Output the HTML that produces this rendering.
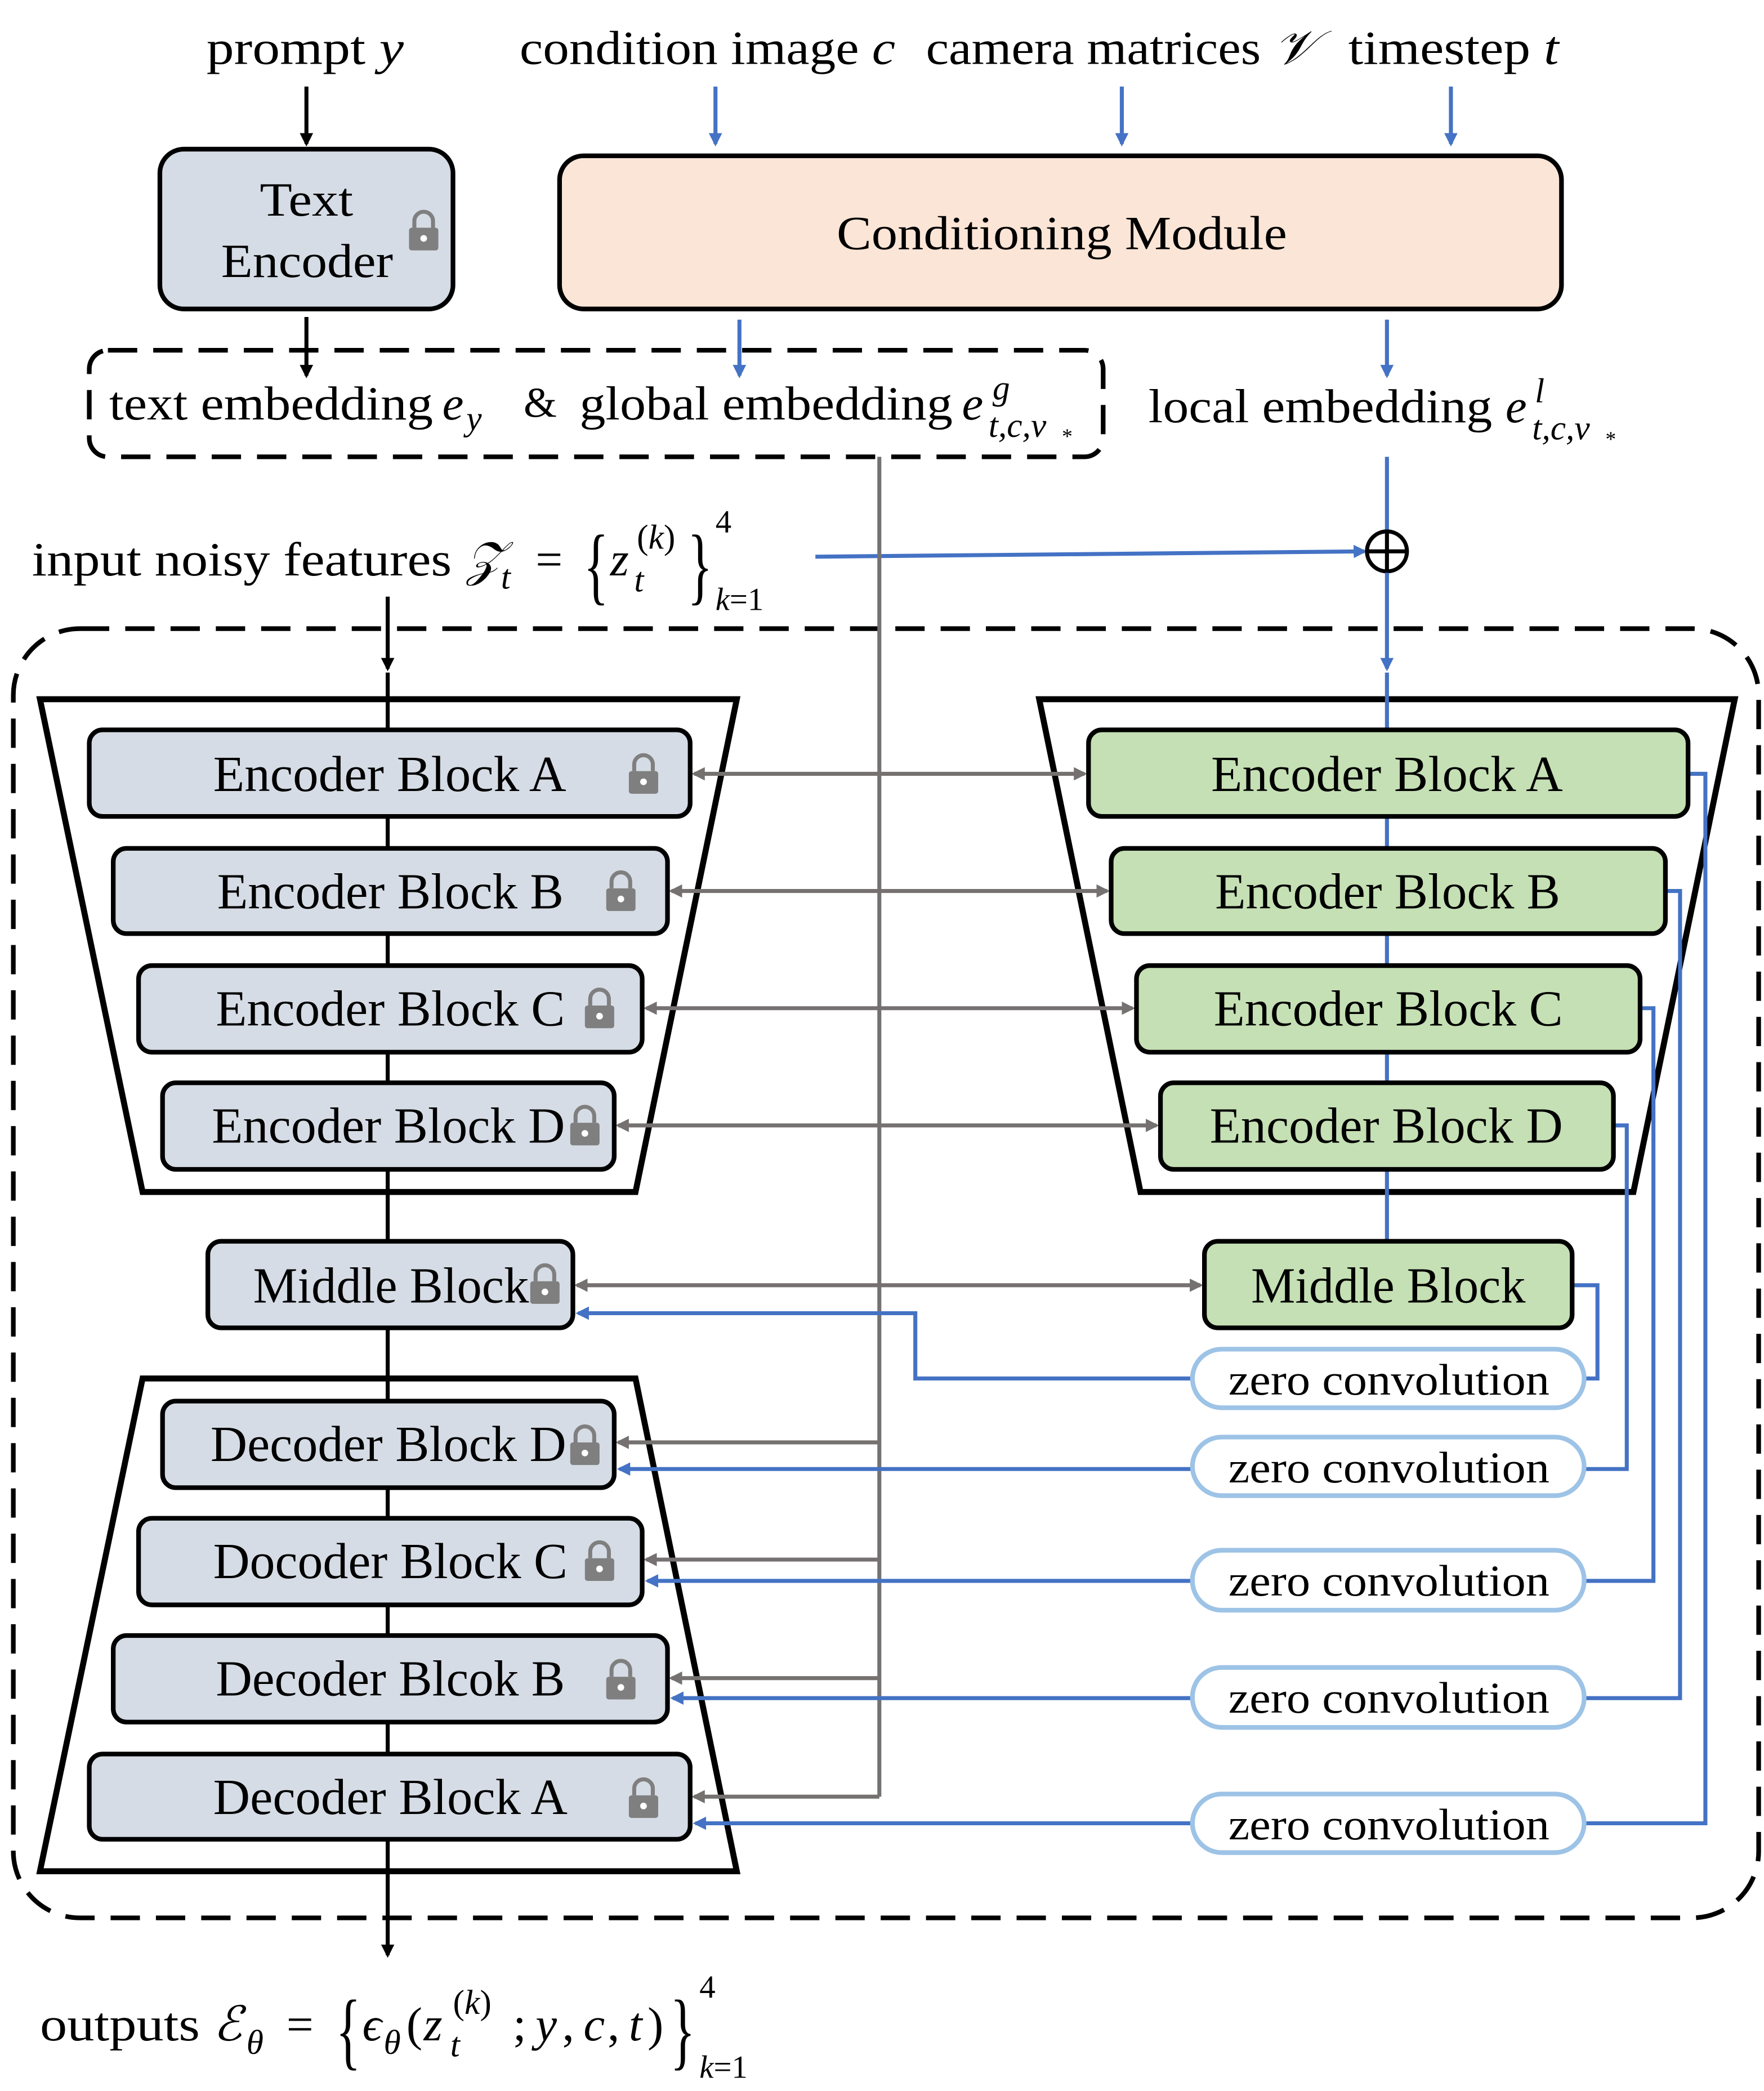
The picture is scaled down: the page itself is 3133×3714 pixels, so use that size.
<!DOCTYPE html>
<html><head><meta charset="utf-8"><style>
html,body{margin:0;padding:0;background:#fff;}
svg{display:block;}
text{font-family:"Liberation Serif",serif;fill:#000;}
</style></head><body>
<svg width="3133" height="3714" viewBox="0 0 1324 1570" preserveAspectRatio="none" xmlns="http://www.w3.org/2000/svg">
<defs>
<marker id="ak" markerWidth="10" markerHeight="10" refX="8" refY="5" orient="auto" markerUnits="userSpaceOnUse"><path d="M0,0 L10,5 L0,10 z" fill="#000"/></marker>
<marker id="ab" markerWidth="10" markerHeight="10" refX="8" refY="5" orient="auto" markerUnits="userSpaceOnUse"><path d="M0,0 L10,5 L0,10 z" fill="#4472c4"/></marker>
<marker id="ag" markerWidth="10" markerHeight="10" refX="8" refY="5" orient="auto-start-reverse" markerUnits="userSpaceOnUse"><path d="M0,0 L10,5 L0,10 z" fill="#767171"/></marker>
<g id="lock"><path d="M-7,-4 v-5 a7,7 0 0 1 14,0 v5" fill="none" stroke="#7f7f7f" stroke-width="3"/><rect x="-11" y="-4" width="22" height="17" rx="2" fill="#7f7f7f"/><circle cx="0" cy="4" r="2.5" fill="#fff"/></g>
</defs>

<!-- top labels -->
<text x="155" y="48" font-size="36" textLength="148" lengthAdjust="spacingAndGlyphs">prompt <tspan font-style="italic">y</tspan></text>
<text x="390" y="48" font-size="36" textLength="282" lengthAdjust="spacingAndGlyphs">condition image <tspan font-style="italic">c</tspan></text>
<text x="695" y="48" font-size="36" textLength="293" lengthAdjust="spacingAndGlyphs">camera matrices <tspan font-style="italic">𝒱</tspan></text>
<text x="1012" y="48" font-size="36" textLength="158" lengthAdjust="spacingAndGlyphs">timestep <tspan font-style="italic">t</tspan></text>

<line x1="230" y1="65" x2="230" y2="108" stroke="#000" stroke-width="3" marker-end="url(#ak)"/>
<g stroke="#4472c4" stroke-width="3">
<line x1="537" y1="65" x2="537" y2="108" marker-end="url(#ab)"/>
<line x1="842" y1="65" x2="842" y2="108" marker-end="url(#ab)"/>
<line x1="1089" y1="65" x2="1089" y2="108" marker-end="url(#ab)"/>
</g>

<rect x="120" y="112" width="220" height="120" rx="18" fill="#d6dce5" stroke="#000" stroke-width="3.5"/>
<text x="195" y="162" font-size="36" textLength="70" lengthAdjust="spacingAndGlyphs">Text</text>
<text x="166" y="208" font-size="36" textLength="129" lengthAdjust="spacingAndGlyphs">Encoder</text>
<use href="#lock" x="318" y="175"/>

<rect x="420" y="117" width="752" height="115" rx="18" fill="#fbe5d6" stroke="#000" stroke-width="3.5"/>
<text x="628" y="187" font-size="36" textLength="338" lengthAdjust="spacingAndGlyphs">Conditioning Module</text>

<rect x="67" y="263" width="761" height="80" rx="14" fill="none" stroke="#000" stroke-width="3.5" stroke-dasharray="22,12"/>
<line x1="230" y1="238" x2="230" y2="282" stroke="#000" stroke-width="3" marker-end="url(#ak)"/>
<line x1="555" y1="240" x2="555" y2="282" stroke="#4472c4" stroke-width="3" marker-end="url(#ab)"/>
<line x1="1041" y1="240" x2="1041" y2="282" stroke="#4472c4" stroke-width="3" marker-end="url(#ab)"/>

<g font-size="36">
<text x="82" y="315" textLength="243" lengthAdjust="spacingAndGlyphs">text embedding</text>
<text x="332" y="315" font-style="italic">e</text>
<text x="350" y="323" font-style="italic" font-size="26">y</text>
<text x="393" y="313" font-size="32">&amp;</text>
<text x="435" y="315" textLength="280" lengthAdjust="spacingAndGlyphs">global embedding</text>
<text x="722" y="315" font-style="italic">e</text>
<text x="745" y="300" font-style="italic" font-size="26">g</text>
<text x="742" y="328" font-style="italic" font-size="26">t,c,v</text>
<text x="797" y="333" font-size="16">*</text>

<text x="862" y="317" textLength="258" lengthAdjust="spacingAndGlyphs">local embedding</text>
<text x="1130" y="317" font-style="italic">e</text>
<text x="1152" y="302" font-style="italic" font-size="26">l</text>
<text x="1150" y="330" font-style="italic" font-size="26">t,c,v</text>
<text x="1205" y="335" font-size="16">*</text>
</g>

<!-- noise -->
<g font-size="36">
<text x="24" y="432" textLength="315" lengthAdjust="spacingAndGlyphs">input noisy features</text>
<text x="350" y="432" font-style="italic">𝒵</text>
<text x="376" y="442" font-style="italic" font-size="26">t</text>
<text x="402" y="432">=</text>
<text x="438" y="446" font-size="56" transform="translate(438,446) scale(0.7,1.15) translate(-438,-446)">{</text>
<text x="458" y="432" font-style="italic">z</text>
<text x="478" y="412" font-size="26">(<tspan font-style="italic">k</tspan>)</text>
<text x="476" y="444" font-style="italic" font-size="26">t</text>
<text x="516" y="446" font-size="56" transform="translate(516,446) scale(0.7,1.15) translate(-516,-446)">}</text>
<text x="537" y="400" font-size="24">4</text>
<text x="537" y="458" font-size="24"><tspan font-style="italic">k</tspan>=1</text>
</g>

<line x1="1041" y1="343" x2="1041" y2="398" stroke="#4472c4" stroke-width="3"/>
<line x1="612" y1="418" x2="1024" y2="414" stroke="#4472c4" stroke-width="3" marker-end="url(#ab)"/>
<circle cx="1041" cy="414" r="15" fill="none" stroke="#000" stroke-width="3"/>
<line x1="1026" y1="414" x2="1056" y2="414" stroke="#000" stroke-width="3"/>
<line x1="1041" y1="399" x2="1041" y2="429" stroke="#000" stroke-width="3"/>
<line x1="1041" y1="430" x2="1041" y2="502" stroke="#4472c4" stroke-width="3" marker-end="url(#ab)"/>
<line x1="291" y1="448" x2="291" y2="502" stroke="#000" stroke-width="3" marker-end="url(#ak)"/>

<rect x="10" y="472" width="1310" height="968" rx="50" fill="none" stroke="#000" stroke-width="3.5" stroke-dasharray="22,12"/>

<!-- trapezoids -->
<polygon points="30,525 553,525 477,895 107,895" fill="none" stroke="#000" stroke-width="4.5"/>
<polygon points="107,1035 477,1035 553,1405 30,1405" fill="none" stroke="#000" stroke-width="4.5"/>
<polygon points="780,525 1302,525 1226,895 856,895" fill="none" stroke="#000" stroke-width="4.5"/>

<line x1="291" y1="505" x2="291" y2="1468" stroke="#000" stroke-width="3" marker-end="url(#ak)"/>
<line x1="1041" y1="505" x2="1041" y2="932" stroke="#4472c4" stroke-width="3"/>

<!-- gray lines -->
<g stroke="#767171" stroke-width="3" fill="none">
<line x1="521" y1="581" x2="814" y2="581" marker-start="url(#ag)" marker-end="url(#ag)"/>
<line x1="504" y1="669" x2="831" y2="669" marker-start="url(#ag)" marker-end="url(#ag)"/>
<line x1="485" y1="757" x2="850" y2="757" marker-start="url(#ag)" marker-end="url(#ag)"/>
<line x1="464" y1="845" x2="868" y2="845" marker-start="url(#ag)" marker-end="url(#ag)"/>
<line x1="433" y1="965" x2="901" y2="965" marker-start="url(#ag)" marker-end="url(#ag)"/>
<polyline points="660,343 660,1349"/>
<line x1="660" y1="1083" x2="464" y2="1083" marker-end="url(#ag)"/>
<line x1="660" y1="1171" x2="485" y2="1171" marker-end="url(#ag)"/>
<line x1="660" y1="1260" x2="504" y2="1260" marker-end="url(#ag)"/>
<line x1="660" y1="1349" x2="521" y2="1349" marker-end="url(#ag)"/>
</g>

<!-- blue routing -->
<g stroke="#4472c4" stroke-width="3" fill="none">
<polyline points="1267,581 1280,581 1280,1369 1189,1369"/>
<polyline points="1250,669 1261,669 1261,1275 1189,1275"/>
<polyline points="1231,757 1241,757 1241,1187 1189,1187"/>
<polyline points="1211,845 1221,845 1221,1103 1189,1103"/>
<polyline points="1180,965 1199,965 1199,1035 1189,1035"/>
<line x1="895" y1="1369" x2="522" y2="1369" marker-end="url(#ab)"/>
<line x1="895" y1="1275" x2="505" y2="1275" marker-end="url(#ab)"/>
<line x1="895" y1="1187" x2="486" y2="1187" marker-end="url(#ab)"/>
<line x1="895" y1="1103" x2="465" y2="1103" marker-end="url(#ab)"/>
<polyline points="895,1035 687,1035 687,986 434,986" marker-end="url(#ab)"/>
</g>

<!-- left blocks -->
<g fill="#d6dce5" stroke="#000" stroke-width="3.5">
<rect x="67" y="548" width="451" height="65" rx="10"/>
<rect x="85" y="637" width="416" height="64" rx="10"/>
<rect x="104" y="725" width="378" height="65" rx="10"/>
<rect x="122" y="813" width="339" height="65" rx="10"/>
<rect x="156" y="932" width="274" height="65" rx="10"/>
<rect x="122" y="1052" width="339" height="65" rx="10"/>
<rect x="104" y="1140" width="378" height="65" rx="10"/>
<rect x="85" y="1228" width="416" height="65" rx="10"/>
<rect x="67" y="1317" width="451" height="64" rx="10"/>
</g>
<g font-size="38" lengthAdjust="spacingAndGlyphs">
<text x="160" y="594" textLength="265" lengthAdjust="spacingAndGlyphs">Encoder Block A</text>
<text x="163" y="682" textLength="260" lengthAdjust="spacingAndGlyphs">Encoder Block B</text>
<text x="162" y="770" textLength="262" lengthAdjust="spacingAndGlyphs">Encoder Block C</text>
<text x="159" y="858" textLength="265" lengthAdjust="spacingAndGlyphs">Encoder Block D</text>
<text x="190" y="978" textLength="207" lengthAdjust="spacingAndGlyphs">Middle Block</text>
<text x="158" y="1097" textLength="267" lengthAdjust="spacingAndGlyphs">Decoder Block D</text>
<text x="160" y="1185" textLength="266" lengthAdjust="spacingAndGlyphs">Docoder Block C</text>
<text x="162" y="1273" textLength="262" lengthAdjust="spacingAndGlyphs">Decoder Blcok B</text>
<text x="160" y="1362" textLength="266" lengthAdjust="spacingAndGlyphs">Decoder Block A</text>
</g>
<use href="#lock" x="483" y="583"/>
<use href="#lock" x="466" y="671"/>
<use href="#lock" x="450" y="759"/>
<use href="#lock" x="439" y="847"/>
<use href="#lock" x="409" y="966"/>
<use href="#lock" x="439" y="1087"/>
<use href="#lock" x="450" y="1174"/>
<use href="#lock" x="466" y="1263"/>
<use href="#lock" x="483" y="1352"/>

<!-- right blocks -->
<g fill="#c5e0b4" stroke="#000" stroke-width="3.5">
<rect x="817" y="548" width="450" height="65" rx="10"/>
<rect x="834" y="637" width="416" height="64" rx="10"/>
<rect x="853" y="725" width="378" height="65" rx="10"/>
<rect x="871" y="813" width="340" height="65" rx="10"/>
<rect x="904" y="932" width="276" height="65" rx="10"/>
</g>
<g font-size="38">
<text x="909" y="594" textLength="264" lengthAdjust="spacingAndGlyphs">Encoder Block A</text>
<text x="912" y="682" textLength="259" lengthAdjust="spacingAndGlyphs">Encoder Block B</text>
<text x="911" y="770" textLength="262" lengthAdjust="spacingAndGlyphs">Encoder Block C</text>
<text x="908" y="858" textLength="265" lengthAdjust="spacingAndGlyphs">Encoder Block D</text>
<text x="939" y="978" textLength="206" lengthAdjust="spacingAndGlyphs">Middle Block</text>
</g>

<!-- zero convs -->
<g fill="#fff" stroke="#9dc3e6" stroke-width="3.5">
<rect x="895" y="1013" width="294" height="44" rx="22"/>
<rect x="895" y="1079" width="294" height="44" rx="22"/>
<rect x="895" y="1164" width="294" height="45" rx="22"/>
<rect x="895" y="1252" width="294" height="45" rx="22"/>
<rect x="895" y="1347" width="294" height="44" rx="22"/>
</g>
<g font-size="33">
<text x="922" y="1047" textLength="241" lengthAdjust="spacingAndGlyphs">zero convolution</text>
<text x="922" y="1113" textLength="241" lengthAdjust="spacingAndGlyphs">zero convolution</text>
<text x="922" y="1198" textLength="241" lengthAdjust="spacingAndGlyphs">zero convolution</text>
<text x="922" y="1286" textLength="241" lengthAdjust="spacingAndGlyphs">zero convolution</text>
<text x="922" y="1381" textLength="241" lengthAdjust="spacingAndGlyphs">zero convolution</text>
</g>

<!-- outputs -->
<g font-size="36">
<text x="30" y="1532" textLength="120" lengthAdjust="spacingAndGlyphs">outputs</text>
<text x="160" y="1532" font-style="italic">ℰ</text>
<text x="185" y="1542" font-style="italic" font-size="26">θ</text>
<text x="215" y="1532">=</text>
<text x="252" y="1546" font-size="56" transform="translate(252,1546) scale(0.7,1.15) translate(-252,-1546)">{</text>
<text x="272" y="1532" font-style="italic">ϵ</text>
<text x="288" y="1542" font-style="italic" font-size="26">θ</text>
<text x="305" y="1532">(</text>
<text x="318" y="1532" font-style="italic">z</text>
<text x="340" y="1512" font-size="26">(<tspan font-style="italic">k</tspan>)</text>
<text x="338" y="1544" font-style="italic" font-size="26">t</text>
<text x="385" y="1532">;</text>
<text x="402" y="1532" font-style="italic">y</text>
<text x="422" y="1532">,</text>
<text x="438" y="1532" font-style="italic">c</text>
<text x="456" y="1532">,</text>
<text x="472" y="1532" font-style="italic">t</text>
<text x="486" y="1532">)</text>
<text x="503" y="1546" font-size="56" transform="translate(503,1546) scale(0.7,1.15) translate(-503,-1546)">}</text>
<text x="525" y="1500" font-size="24">4</text>
<text x="525" y="1560" font-size="24"><tspan font-style="italic">k</tspan>=1</text>
</g>
</svg>
</body></html>
